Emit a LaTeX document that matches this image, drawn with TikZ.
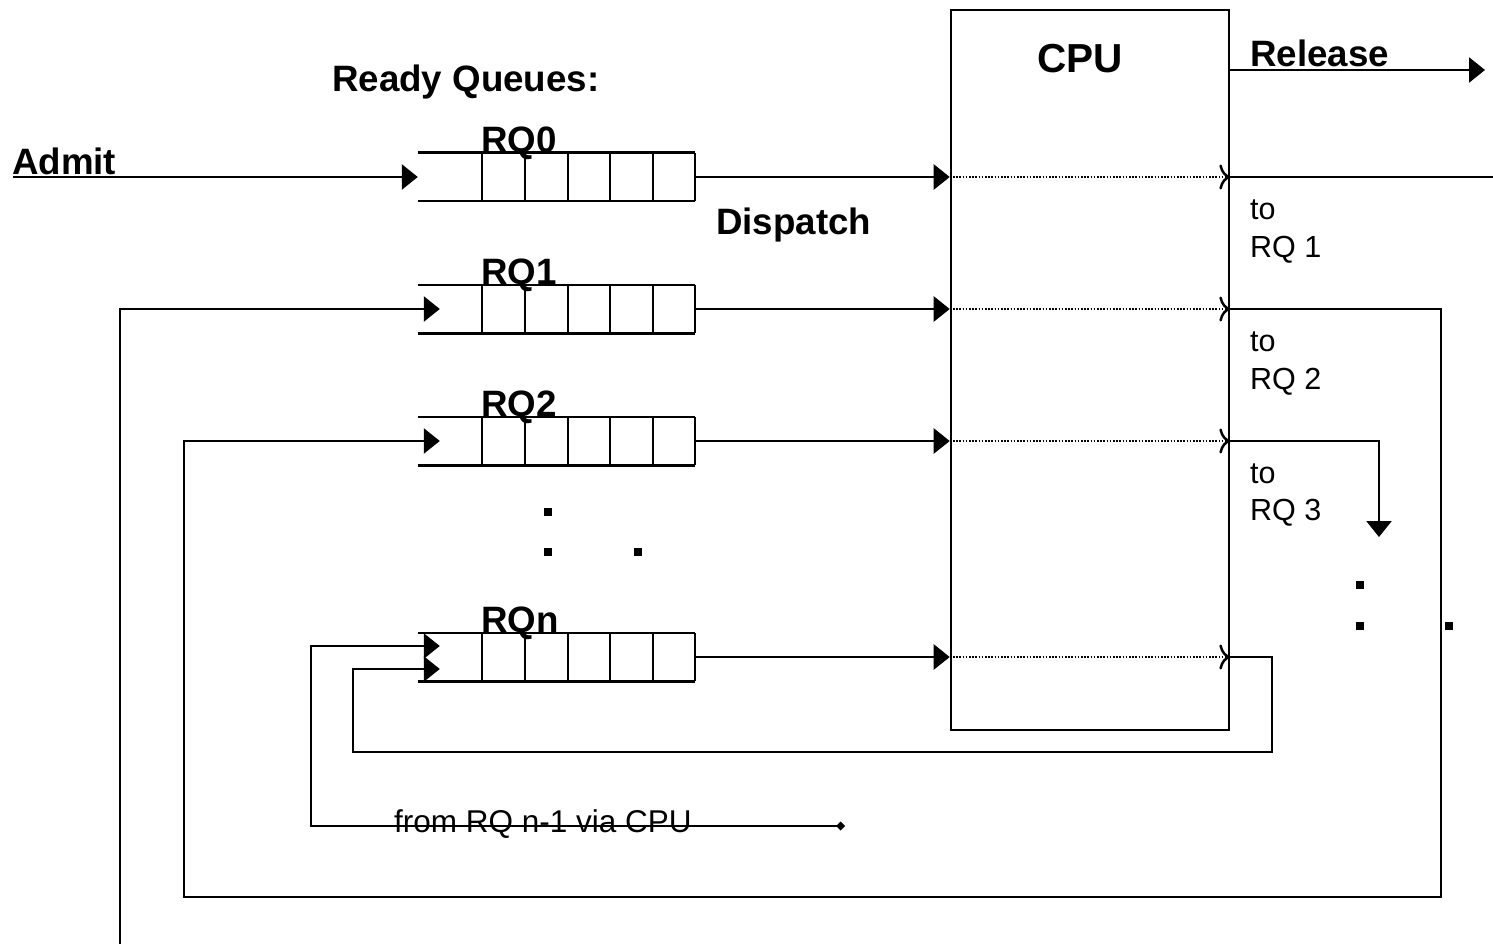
\documentclass[tikz,border=0pt]{standalone}
\usepackage{fontspec}
\setmainfont{Liberation Sans}
\usetikzlibrary{arrows.meta}
\begin{document}
\begin{tikzpicture}[x=1pt,y=-1pt,
  ln/.style={line width=2.6pt},
  tri/.style={-{Triangle[length=16pt,width=25pt]}},
  dotl/.style={line width=1.8pt, dash pattern=on 1.6pt off 1.6pt},
  chev/.style={-{Computer Modern Rightarrow[length=11pt,width=25pt,line width=2.5pt]}},
  bl/.style={font=\fontsize{36.7}{40}\selectfont\bfseries, inner sep=0pt},
  cpub/.style={font=\fontsize{40.5}{44}\selectfont\bfseries, inner sep=0pt},
  rg/.style={font=\fontsize{30.5}{34}\selectfont, inner sep=0pt},
  queue/.style={minimum width=277pt, minimum height=48pt, inner sep=0pt},
  sq/.style={fill, minimum size=8pt, inner sep=0pt}]
\useasboundingbox (0,0) rectangle (1493,944);

% CPU
\node[draw, line width=2.6pt, minimum width=278pt, minimum height=720pt, inner sep=0pt] (cpu) at (1090,370) {};
\node[cpub, anchor=base] (cputxt) at (1080,73) {CPU};

% labels
\node[bl, anchor=base west] (rq) at (332,92) {Ready Queues:};
\node[bl, anchor=base west] (disp) at (716,234) {Dispatch};
\node[bl, anchor=base west] (admtxt) at (12,175) {Admit};
\node[bl, anchor=base west] (reltxt) at (1250,67) {Release};

% queues
\foreach \n/\y/\l in {0/177/RQ0,1/309/RQ1,2/441/RQ2,n/657/RQn} {
  \node[queue] (q\n) at (556.5,\y) {};
  \draw[ln] (q\n.north west) -- (q\n.north east) (q\n.south west) -- (q\n.south east);
  \foreach \k in {64,107,150,192,235,277}
    \draw[ln] ([xshift=\k pt]q\n.north west) -- ([xshift=\k pt]q\n.south west);
  \node[bl, anchor=base west] (l\n) at ([xshift=63pt]q\n.north west) {\l};
  \draw[ln,tri] (q\n.east) -- (q\n.east -| cpu.west);
  \draw[dotl,chev] (q\n.east -| cpu.west) -- (q\n.east -| cpu.east);
}

% admit and release
\coordinate (admit) at (13,177);
\draw[ln,tri] (admit) -- (q0.west);
\coordinate (rel) at (1485,70);
\draw[ln,tri] (cpu.east |- rel) -- (rel);

% outputs
\coordinate (out0) at (1493,177);
\draw[ln] (q0.east -| cpu.east) -- (out0);

\coordinate (r1) at (1441,897);
\draw[ln,tri] (q1.east -| cpu.east) -- (r1 |- q1.east) -- (r1) -- (184,897) -- (184,441) -- ([xshift=22pt]q2.west);

\coordinate (r3) at (1379,537);
\draw[ln,tri] (q2.east -| cpu.east) -- (r3 |- q2.east) -- (r3);

\draw[ln,tri] (qn.east -| cpu.east) -- (1272,657) -- (1272,752) -- (353,752) -- (353,669) -- ([xshift=22pt,yshift=-12pt]qn.west);

% from RQ n-1
\node[rg, font=\fontsize{31.5}{34}\selectfont, anchor=base west] (fromtxt) at (394,832) {from RQ n-1 via CPU};
\coordinate (fromend) at (845,826);
\draw[ln, {Diamond[length=9pt,width=9pt]}-{Triangle[length=16pt,width=25pt]}] (fromend) -- (311,826) -- (311,646) -- ([xshift=22pt,yshift=11pt]qn.west);

% RQ1 feed
\coordinate (lb) at (120,944);
\draw[ln,tri] (lb) -- (lb |- q1.west) -- ([xshift=22pt]q1.west);

% to labels
\node[rg, anchor=base west] (t1a) at (1250,219) {to};
\node[rg, anchor=base west] (t1b) at (1250,257) {RQ 1};
\node[rg, anchor=base west] (t2a) at (1250,351) {to};
\node[rg, anchor=base west] (t2b) at (1250,389) {RQ 2};
\node[rg, anchor=base west] (t3a) at (1250,483) {to};
\node[rg, anchor=base west] (t3b) at (1250,520) {RQ 3};

% dots
\node[sq] (d1) at (548,512) {};
\node[sq] (d2) at (548,552) {};
\node[sq] (d3) at (638,552) {};
\node[sq] (d4) at (1360,585) {};
\node[sq] (d5) at (1360,626) {};
\node[sq] (d6) at (1449,626) {};
\end{tikzpicture}
\end{document}
